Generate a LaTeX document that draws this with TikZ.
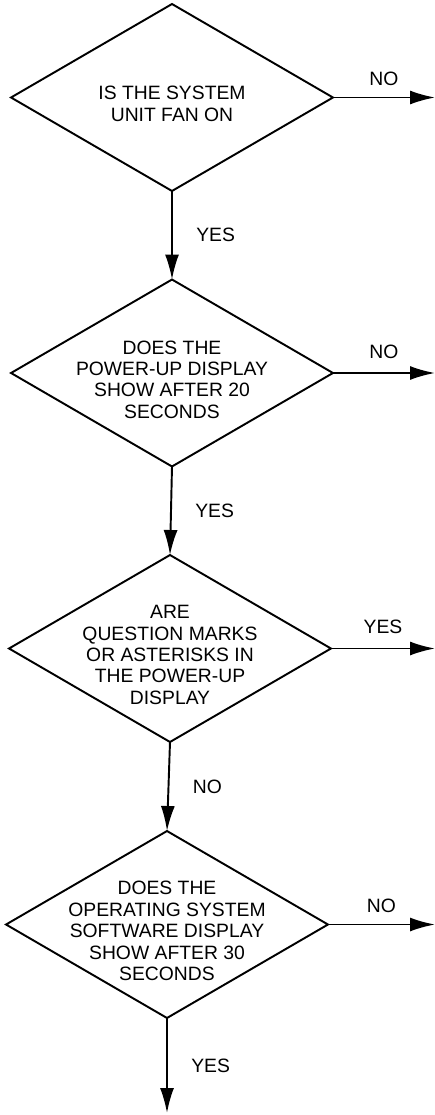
\documentclass[tikz,border=0pt]{standalone}
\usepackage{fontspec}
\setmainfont{Liberation Sans}
\usetikzlibrary{arrows.meta,shapes.geometric}

\tikzset{
  decision/.style={diamond, draw, line width=1.1pt, minimum width=6.44cm,
    minimum height=3.74cm, inner sep=0pt, outer sep=0pt},
  question/.style={align=center, font=\fontsize{11}{12.2}\selectfont, yshift=-1.3mm},
  flow/.style={line width=1.1pt, -{Latex[length=5mm,width=2.8mm]}},
  tag/.style={font=\fontsize{11}{12.2}\selectfont}
}

\begin{document}
\begin{tikzpicture}[x=0.02cm,y=-0.02cm]
          \useasboundingbox (0,0) rectangle (435,1115);
          \coordinate (rim) at (435,0);
          \coordinate (floor) at (0,1113);

          \node[decision] (fan) at (172,97.5) {};
          \node[decision] (disp) at (172,373) {};
          \node[decision] (marks) at (170,648.5) {};
          \node[decision] (os) at (167,924.5) {};

          \node[question] (fanq) at (fan) {IS THE SYSTEM\\UNIT FAN ON};
          \node[question] (dispq) at (disp) {DOES THE\\POWER-UP DISPLAY\\SHOW AFTER 20\\SECONDS};
          \node[question] (marksq) at (marks) {ARE\\QUESTION MARKS\\OR ASTERISKS IN\\THE POWER-UP\\DISPLAY};
          \node[question] (osq) at (os) {DOES THE\\OPERATING SYSTEM\\SOFTWARE DISPLAY\\SHOW AFTER 30\\SECONDS};

          \coordinate (fanno) at (fan.east -| rim);
          \coordinate (dispno) at (disp.east -| rim);
          \coordinate (marksyes) at (marks.east -| rim);
          \coordinate (osno) at (os.east -| rim);
          \coordinate (osyes) at (os.south |- floor);

          \draw[flow] (fan.east) -- (fanno) node[tag, midway, above=1mm] (fannol) {NO};
          \draw[flow] (disp.east) -- (dispno) node[tag, midway, above=1.5mm] (dispnol) {NO};
          \draw[flow] (marks.east) -- (marksyes) node[tag, midway, above=1.5mm] (marksyesl) {YES};
          \draw[flow] (os.east) -- (osno) node[tag, midway, above=1mm] (osnol) {NO};

          \draw[flow] (fan.south) -- (disp.north) node[tag, midway, right=3.5mm] (fanyesl) {YES};
          \draw[flow] (disp.south) -- (marks.north) node[tag, midway, right=3.5mm] (dispyesl) {YES};
          \draw[flow] (marks.south) -- (os.north) node[tag, midway, right=3.5mm] (marksnol) {NO};
          \draw[flow] (os.south) -- (osyes) node[tag, midway, right=3.5mm] (osyesl) {YES};
        \end{tikzpicture}
\end{document}
